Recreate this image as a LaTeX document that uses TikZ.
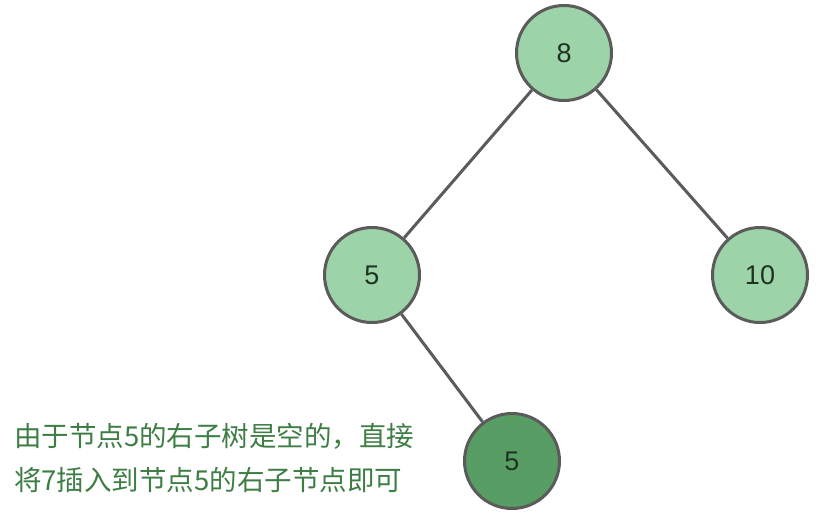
\documentclass[tikz,border=0pt]{standalone}
\usepackage{fontspec}
\setmainfont{Liberation Sans}
\newfontfamily\cjk{Noto Sans CJK SC}
\definecolor{lightg}{HTML}{9DD3A8}
\definecolor{darkg}{HTML}{579D64}
\definecolor{edgec}{HTML}{5B5B5B}
\definecolor{numc}{HTML}{1F3324}
\definecolor{textg}{HTML}{3E7E45}
\tikzset{
  treenode/.style={circle, draw=edgec, line width=3pt, minimum size=95pt, inner sep=0pt, fill=lightg, text=numc, font=\fontsize{27}{32}\selectfont},
  darknode/.style={treenode, fill=darkg},
  treeedge/.style={draw=edgec, line width=3pt},
  note/.style={text=textg, font=\cjk\fontsize{27.5}{32}\selectfont, anchor=west, inner sep=0pt}
}
\begin{document}
\begin{tikzpicture}[x=1pt,y=-1pt]
\useasboundingbox (0,0) rectangle (816,515);
\node[treenode] (n8) at (564,53) {8};
\node[treenode] (n5) at (372,275) {5};
\node[treenode] (n10) at (760,275) {10};
\node[darknode] (n5b) at (512,461) {5};
\draw[treeedge] (n8) -- (n5);
\draw[treeedge] (n8) -- (n10);
\draw[treeedge] (n5) -- (n5b);
\node[note] (t1) at (14,436) {由于节点5的右子树是空的，直接};
\node[note] (t2) at (14,480) {将7插入到节点5的右子节点即可};
\end{tikzpicture}
\end{document}
